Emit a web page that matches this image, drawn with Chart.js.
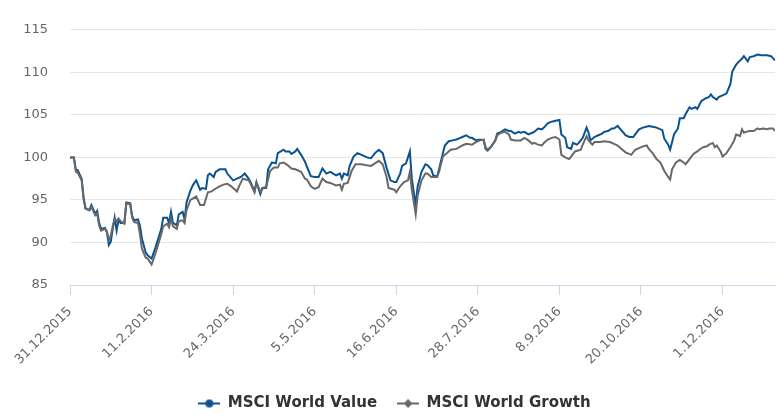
<!DOCTYPE html>
<html lang="de">
<head>
    <meta charset="utf-8" />
    <title>MSCI World Value vs. Growth</title>
    <script src="https://cdnjs.cloudflare.com/ajax/libs/Chart.js/4.4.1/chart.umd.min.js"></script>
    <style>
        html, body { margin: 0; padding: 0; background: #fff; }
        #wrap { width: 776px; height: 415px; }
    </style>
</head>
<body>
    <div id="wrap"><canvas id="perfChart" width="776" height="415"></canvas></div>
    <script>
        // x = Tage seit 31.12.2015
        const tickLabels = ['31.12.2015', '11.2.2016', '24.3.2016', '5.5.2016', '16.6.2016',
            '28.7.2016', '8.9.2016', '20.10.2016', '1.12.2016'];

        const valueDays = [0, 2, 3, 4, 6, 7, 8, 10, 11, 13, 14, 15, 16, 18, 19, 20, 21, 22, 23, 24,
            25, 26, 28, 29, 31, 32, 33, 35, 36, 37, 39, 40, 42, 44, 47, 48, 50, 51, 52, 53,
            55, 56, 58, 59, 60, 62, 63, 64, 65, 67, 68, 70, 71, 72, 74, 75, 77, 80, 81, 84,
            86, 88, 90, 92, 93, 95, 96, 98, 99, 101, 102, 104, 106, 107, 110, 111, 113, 114, 116, 117,
            119, 121, 122, 124, 126, 128, 130, 132, 134, 137, 139, 140, 141, 143, 144, 146, 148, 151, 153, 155,
            157, 159, 161, 163, 165, 167, 168, 170, 171, 173, 175, 176, 178, 179, 181, 183, 184, 186, 187, 189,
            190, 192, 193, 195, 197, 199, 201, 202, 204, 206, 207, 209, 211, 213, 214, 215, 217, 219, 220, 222,
            224, 226, 227, 229, 231, 232, 234, 236, 238, 239, 241, 243, 244, 246, 248, 250, 252, 253, 255, 256,
            258, 259, 261, 262, 264, 266, 267, 268, 270, 272, 274, 275, 277, 279, 280, 282, 283, 285, 286, 288,
            290, 292, 293, 295, 298, 300, 302, 305, 306, 308, 309, 311, 313, 314, 316, 317, 319, 320, 322, 323,
            325, 327, 329, 330, 331, 333, 334, 336, 338, 340, 341, 343, 345, 346, 347, 349, 350, 352, 354, 356,
            358, 359, 361, 363];
        const valueSeries = [100.0, 100.0, 98.6, 98.5, 97.5, 95.3, 94.0, 93.8, 94.4, 93.4, 93.7, 92.3, 91.6, 91.7, 91.2, 89.7, 90.1, 91.6, 92.9, 91.4,
            92.7, 92.3, 92.3, 94.7, 94.6, 93.1, 92.6, 92.7, 92.0, 90.5, 88.8, 88.5, 88.1, 89.4, 91.6, 92.9, 92.9, 92.3, 93.6, 92.3,
            92.0, 93.3, 93.6, 92.7, 94.7, 96.1, 96.6, 97.0, 97.3, 96.2, 96.4, 96.3, 97.9, 98.1, 97.7, 98.3, 98.6, 98.6, 98.1, 97.3,
            97.5, 97.7, 98.1, 97.5, 97.1, 96.0, 97.1, 95.7, 96.4, 96.4, 98.6, 99.4, 99.3, 100.5, 100.9, 100.7, 100.7, 100.4, 100.7, 101.0,
            100.3, 99.5, 98.9, 97.8, 97.7, 97.7, 98.7, 98.1, 98.3, 97.9, 98.1, 97.5, 98.1, 97.9, 99.0, 100.1, 100.5, 100.2, 100.0, 99.9,
            100.5, 100.9, 100.5, 98.8, 97.3, 97.1, 97.1, 98.1, 99.0, 99.3, 100.7, 97.5, 94.4, 96.6, 98.3, 99.2, 99.1, 98.6, 97.9, 97.7,
            98.6, 100.5, 101.4, 101.9, 102.0, 102.1, 102.3, 102.4, 102.6, 102.3, 102.3, 102.0, 102.1, 102.0, 101.0, 100.8, 101.3, 102.0, 102.8, 103.0,
            103.3, 103.1, 103.1, 102.8, 103.0, 102.9, 103.0, 102.7, 102.9, 103.0, 103.4, 103.3, 103.5, 104.0, 104.2, 104.3, 104.4, 102.7, 102.3, 101.2,
            101.0, 101.7, 101.5, 101.7, 102.3, 103.5, 102.9, 102.0, 102.4, 102.6, 102.8, 103.0, 103.1, 103.4, 103.4, 103.7, 103.4, 102.9, 102.6, 102.4,
            102.4, 103.0, 103.3, 103.5, 103.7, 103.6, 103.5, 103.2, 102.2, 101.5, 100.9, 102.7, 103.4, 104.6, 104.6, 105.1, 105.9, 105.7, 105.9, 105.7,
            106.6, 106.9, 107.1, 107.4, 107.1, 106.8, 107.1, 107.3, 107.5, 108.6, 110.1, 110.9, 111.4, 111.6, 111.9, 111.3, 111.8, 111.9, 112.1, 112.0,
            112.0, 112.0, 111.9, 111.4];

        const growthDays = [0, 2, 3, 4, 6, 7, 8, 10, 11, 13, 14, 15, 16, 18, 19, 20, 21, 22, 23, 24,
            25, 26, 28, 29, 31, 32, 33, 35, 36, 37, 39, 40, 42, 44, 47, 48, 50, 51, 52, 53,
            55, 56, 58, 59, 60, 62, 65, 67, 69, 71, 73, 74, 77, 79, 81, 83, 86, 87, 89, 92,
            93, 95, 96, 98, 100, 101, 103, 105, 107, 108, 110, 112, 114, 116, 119, 121, 122, 124, 126, 128,
            130, 132, 134, 137, 139, 140, 141, 143, 145, 147, 150, 152, 155, 157, 159, 161, 163, 164, 167, 168,
            170, 172, 174, 175, 176, 178, 179, 181, 183, 184, 186, 189, 190, 192, 194, 196, 199, 202, 204, 207,
            209, 211, 213, 214, 215, 217, 219, 220, 222, 224, 226, 227, 229, 231, 232, 234, 236, 238, 239, 241,
            243, 244, 246, 248, 250, 252, 253, 255, 257, 258, 260, 263, 264, 266, 267, 269, 270, 273, 275, 278,
            281, 282, 284, 286, 287, 289, 291, 293, 295, 297, 298, 300, 302, 304, 305, 306, 308, 309, 310, 312,
            314, 316, 317, 319, 321, 323, 324, 326, 328, 329, 331, 332, 333, 335, 336, 338, 340, 342, 343, 345,
            346, 347, 348, 350, 352, 354, 355, 357, 359, 360, 362, 363];
        const growthSeries = [100.0, 100.0, 98.3, 98.2, 97.3, 95.0, 94.0, 93.8, 94.2, 93.2, 93.4, 92.0, 91.4, 91.6, 91.3, 90.3, 90.8, 91.9, 92.8, 92.5,
            92.8, 92.5, 92.2, 94.6, 94.5, 92.9, 92.4, 92.3, 91.0, 89.3, 88.2, 88.1, 87.4, 88.7, 91.0, 91.9, 92.2, 91.8, 92.8, 91.9,
            91.6, 92.5, 92.6, 92.3, 93.8, 95.0, 95.4, 94.4, 94.4, 95.9, 96.0, 96.2, 96.6, 96.8, 96.9, 96.6, 96.0, 96.6, 97.5, 97.3,
            96.9, 95.9, 97.0, 96.0, 96.5, 96.5, 98.4, 98.8, 98.8, 99.3, 99.4, 99.1, 98.7, 98.6, 98.3, 97.5, 97.4, 96.6, 96.3, 96.5,
            97.5, 97.1, 97.0, 96.7, 96.8, 96.2, 96.9, 97.0, 98.4, 99.2, 99.2, 99.1, 99.0, 99.3, 99.6, 99.2, 97.7, 96.4, 96.2, 95.9,
            96.6, 97.1, 97.3, 98.3, 96.2, 93.3, 95.5, 97.3, 98.1, 98.1, 97.7, 97.7, 98.3, 100.1, 100.5, 100.9, 101.0, 101.4, 101.6, 101.5,
            101.8, 102.0, 102.1, 101.2, 100.9, 101.3, 102.0, 102.6, 102.9, 103.0, 102.7, 102.1, 102.0, 102.0, 102.0, 102.3, 102.0, 101.6, 101.7, 101.5,
            101.4, 101.7, 102.1, 102.3, 102.4, 102.1, 100.3, 100.0, 99.8, 100.1, 100.7, 100.9, 101.5, 102.5, 102.0, 101.5, 101.8, 101.8, 101.9, 101.8,
            101.5, 101.4, 101.0, 100.6, 100.5, 100.3, 100.9, 101.1, 101.3, 101.4, 101.0, 100.5, 99.8, 99.4, 98.9, 98.4, 97.7, 97.4, 98.6, 99.4,
            99.7, 99.4, 99.2, 99.8, 100.4, 100.7, 100.9, 101.2, 101.3, 101.5, 101.7, 101.2, 101.4, 100.7, 100.1, 100.5, 101.2, 102.0, 102.7, 102.5,
            103.3, 102.9, 103.0, 103.1, 103.1, 103.4, 103.3, 103.4, 103.3, 103.4, 103.4, 103.1];

        function toPoints(days, values) {
            return days.map(function (d, i) { return { x: d, y: values[i] }; });
        }

        // Legendensymbol: Linie mit Marker wie im Original
        function legendMarker(color, shape) {
            var c = document.createElement('canvas');
            c.width = 22; c.height = 12;
            var g = c.getContext('2d');
            g.strokeStyle = color; g.lineWidth = 2;
            g.beginPath(); g.moveTo(0, 6); g.lineTo(22, 6); g.stroke();
            g.fillStyle = color;
            g.beginPath();
            if (shape === 'circle') {
                g.arc(11, 6, 4, 0, Math.PI * 2);
            } else {
                g.moveTo(11, 1.5); g.lineTo(15.5, 6); g.lineTo(11, 10.5); g.lineTo(6.5, 6); g.closePath();
            }
            g.fill();
            return c;
        }

        var blue = '#0b5290';
        var grey = '#686868';
        var bottomShift = 6;

        var ctx = document.getElementById('perfChart').getContext('2d');
        var perfChart = new Chart(ctx, {
            type: 'line',
            data: {
                datasets: [{
                    label: 'MSCI World Value',
                    data: toPoints(valueDays, valueSeries),
                    borderColor: blue,
                    backgroundColor: blue,
                    borderWidth: 2,
                    pointRadius: 0,
                    pointHoverRadius: 0,
                    pointStyle: legendMarker(blue, 'circle'),
                    tension: 0,
                    order: 2
                }, {
                    label: 'MSCI World Growth',
                    data: toPoints(growthDays, growthSeries),
                    borderColor: grey,
                    backgroundColor: grey,
                    borderWidth: 2,
                    pointRadius: 0,
                    pointHoverRadius: 0,
                    pointStyle: legendMarker(grey, 'diamond'),
                    tension: 0,
                    order: 1
                }]
            },
            options: {
                responsive: false,
                animation: false,
                devicePixelRatio: 1,
                layout: { padding: { top: 15, right: 1, left: 14, bottom: -bottomShift } },
                plugins: {
                    tooltip: { enabled: false },
                    legend: {
                        position: 'bottom',
                        labels: {
                            usePointStyle: true,
                            pointStyleWidth: 22,
                            padding: 20,
                            color: '#333333',
                            font: { family: 'DejaVu Sans', size: 15, weight: 'bold' },
                            sort: function (a, b) { return a.datasetIndex - b.datasetIndex; }
                        }
                    }
                },
                scales: {
                    x: {
                        type: 'linear',
                        min: 0,
                        max: 363,
                        afterFit: function (scale) {
                            scale.height = 415 + bottomShift - 285 - scale.chart.legend.height;
                        },
                        grid: {
                            drawOnChartArea: false,
                            drawTicks: true,
                            tickLength: 10,
                            color: '#ccd6eb'
                        },
                        border: { color: '#ccd6eb' },
                        ticks: {
                            stepSize: 42,
                            includeBounds: false,
                            autoSkip: false,
                            minRotation: 45,
                            maxRotation: 45,
                            padding: 9,
                            color: '#666666',
                            font: { family: 'DejaVu Sans', size: 13 },
                            callback: function (value) { return tickLabels[Math.round(value / 42)]; }
                        }
                    },
                    y: {
                        min: 85,
                        max: 115,
                        afterFit: function (scale) { scale.width = 56; },
                        grid: { color: '#e6e6e6', drawTicks: false },
                        border: { display: false },
                        ticks: {
                            stepSize: 5,
                            padding: 22,
                            color: '#666666',
                            font: { family: 'DejaVu Sans', size: 13 }
                        }
                    }
                }
            }
        });
    </script>
</body>
</html>
